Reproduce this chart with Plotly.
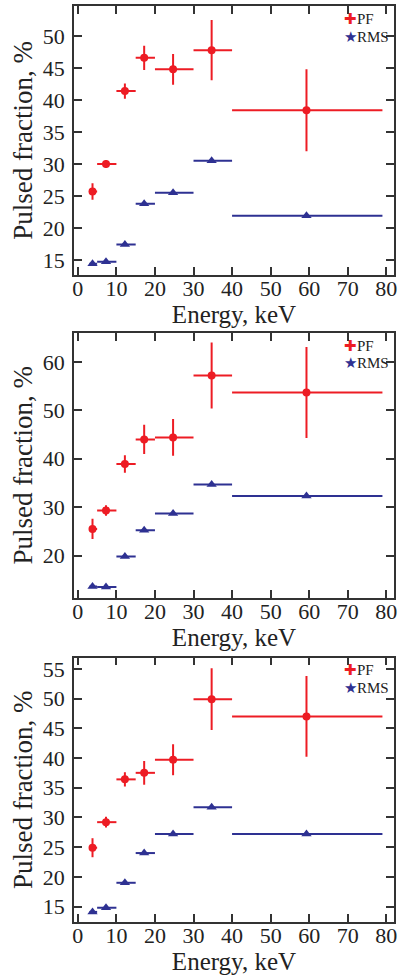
import plotly.graph_objects as go

# Energy bins (keV)
e_center = [3.8, 7.3, 12.2, 17.2, 24.7, 34.7, 59.3]
e_lo = [3, 5, 10, 15, 20, 30, 40]
e_hi = [5, 10, 15, 20, 30, 40, 79]

# Panel 1
pf1 = [25.7, 30.0, 41.4, 46.6, 44.8, 47.8, 38.4]
pf1_err = [1.3, 0.6, 1.2, 1.9, 2.4, 4.7, 6.4]
rms1 = [14.4, 14.7, 17.4, 23.8, 25.5, 30.5, 21.9]

# Panel 2
pf2 = [25.5, 29.3, 38.9, 44.0, 44.4, 57.2, 53.7]
pf2_err = [2.1, 1.1, 1.8, 3.0, 3.8, 6.8, 9.4]
rms2 = [13.6, 13.5, 19.8, 25.2, 28.7, 34.7, 32.3]

# Panel 3
pf3 = [24.9, 29.2, 36.4, 37.5, 39.7, 49.9, 47.0]
pf3_err = [1.6, 0.9, 1.2, 2.0, 2.6, 5.2, 6.8]
rms3 = [14.1, 14.8, 19.0, 24.0, 27.2, 31.7, 27.2]

x_ticks = [0, 10, 20, 30, 40, 50, 60, 70, 80]
y_ranges = [[12.7, 54.7], [11.3, 66.0], [12.4, 56.9]]
y_dticks = [5, 10, 5]

RED = "#ed1c24"
NAVY = "#2e3192"
FONT = "Liberation Serif, Times New Roman, serif"

err_plus = [h - c for h, c in zip(e_hi, e_center)]
err_minus = [c - l for c, l in zip(e_center, e_lo)]

fig = go.Figure()

panels = [(pf1, pf1_err, rms1), (pf2, pf2_err, rms2), (pf3, pf3_err, rms3)]
domains = [[0.7067, 1.0], [0.3541, 0.6431], [0.0, 0.2887]]

for i, (pf, pfe, rms) in enumerate(panels):
    n = i + 1
    xa = "x" if n == 1 else f"x{n}"
    ya = "y" if n == 1 else f"y{n}"
    fig.add_trace(go.Scatter(
        x=e_center, y=pf, mode="markers", name="PF", showlegend=False,
        xaxis=xa, yaxis=ya,
        marker=dict(symbol="circle", size=8, color=RED),
        error_x=dict(type="data", symmetric=False, array=err_plus, arrayminus=err_minus,
                     color=RED, thickness=2, width=0),
        error_y=dict(type="data", array=pfe, color=RED, thickness=2, width=0),
    ))
    fig.add_trace(go.Scatter(
        x=e_center, y=rms, mode="markers", name="RMS", showlegend=False,
        xaxis=xa, yaxis=ya,
        marker=dict(symbol="triangle-up", size=9, color=NAVY),
        error_x=dict(type="data", symmetric=False, array=err_plus, arrayminus=err_minus,
                     color=NAVY, thickness=2, width=0),
    ))

axis_common = dict(
    showline=True, mirror="ticks", linecolor="#333333", linewidth=1.5,
    ticks="inside", ticklen=8, tickwidth=1.5, tickcolor="#333333",
    showgrid=False, zeroline=False,
    tickfont=dict(family=FONT, size=22, color="#222222"),
)

layout = dict(
    width=401, height=978,
    margin=dict(l=74, r=4, t=5, b=56),
    paper_bgcolor="white", plot_bgcolor="white",
    font=dict(family=FONT, color="#222222"),
)
annotations = []
for i in range(3):
    n = i + 1
    xk = "xaxis" if n == 1 else f"xaxis{n}"
    yk = "yaxis" if n == 1 else f"yaxis{n}"
    ya = "y" if n == 1 else f"y{n}"
    xa = "x" if n == 1 else f"x{n}"
    layout[xk] = dict(axis_common, domain=[0, 1], anchor=ya, range=[-1, 82],
                      tickvals=x_ticks, ticklabelstandoff=-7,
                      title=dict(text="Energy, keV", font=dict(family=FONT, size=25),
                                 standoff=0))
    layout[yk] = dict(axis_common, domain=domains[i], anchor=xa, range=y_ranges[i],
                      dtick=y_dticks[i], tick0=0, ticklabelstandoff=3,
                      title=dict(text="Pulsed fraction, %", font=dict(family=FONT, size=27),
                                 standoff=2))
    top = domains[i][1]
    annotations.append(dict(
        xref="paper", yref="paper", x=0.84, y=top - 0.004, xanchor="left", yanchor="top",
        showarrow=False, align="left", borderpad=0,
        text=f"<span style='color:{RED}'>\u271a</span>PF",
        font=dict(family=FONT, size=15, color="#222222"),
    ))
    annotations.append(dict(
        xref="paper", yref="paper", x=0.84, y=top - 0.0235, xanchor="left", yanchor="top",
        showarrow=False, align="left", borderpad=0,
        text=f"<span style='color:{NAVY}'>\u2605</span>RMS",
        font=dict(family=FONT, size=15, color="#222222"),
    ))
layout["annotations"] = annotations

fig.update_layout(**layout)
fig.write_html("out.html")
